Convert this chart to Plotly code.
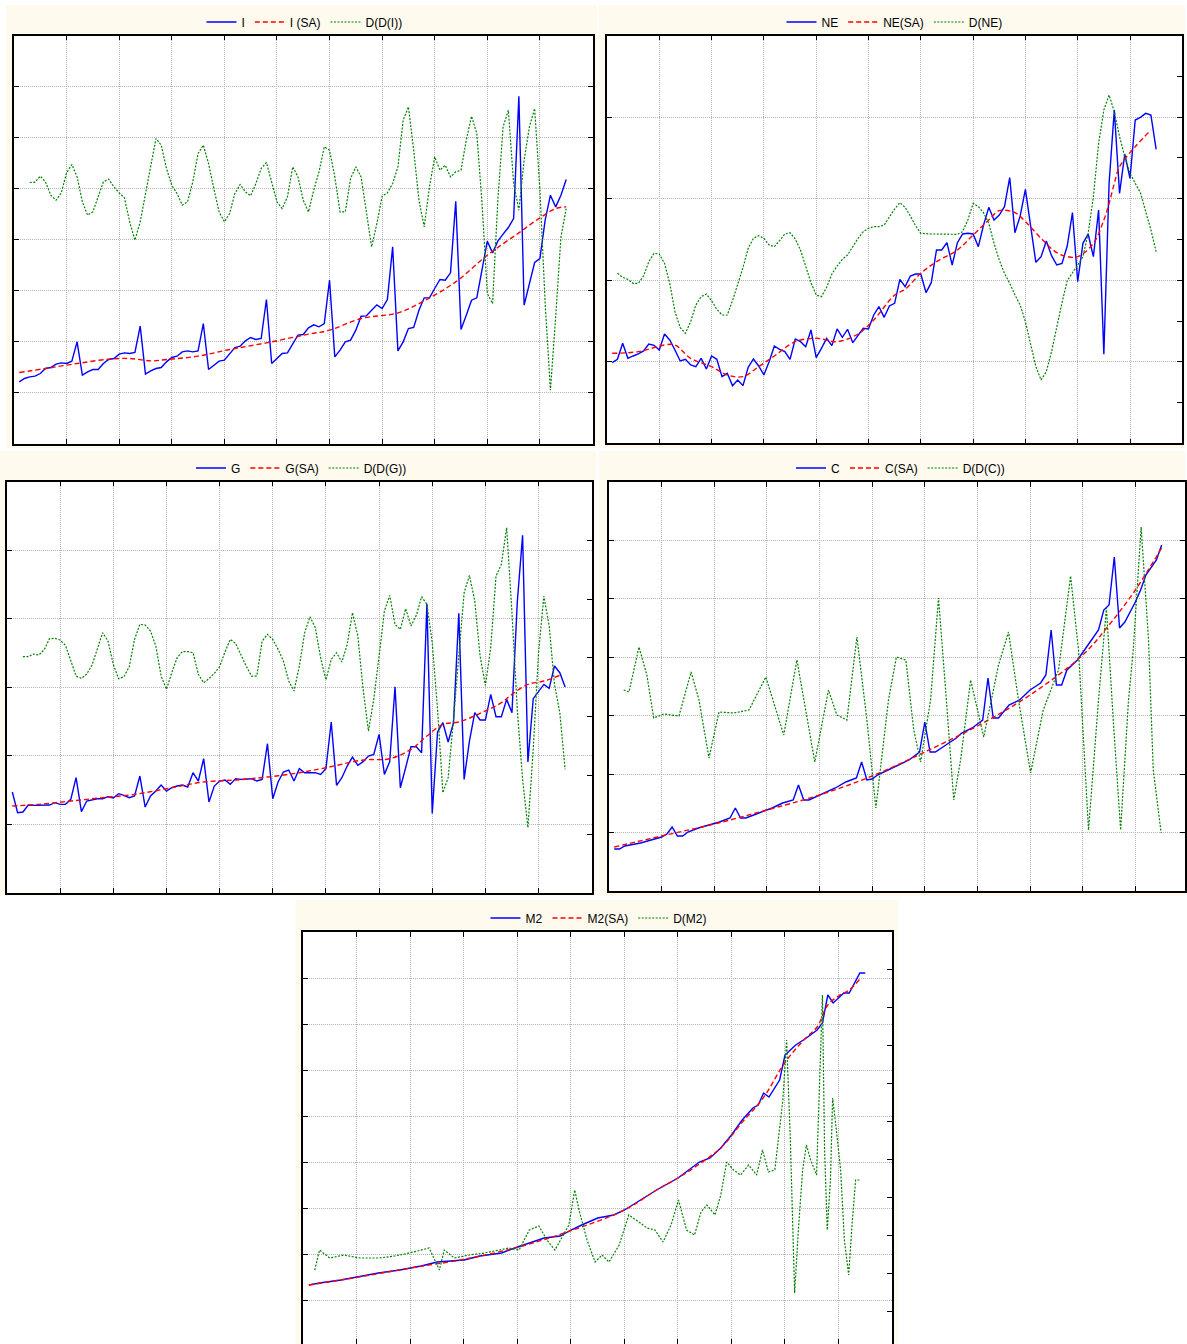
import plotly.graph_objects as go

W, H = 1187, 1344

# ---------------- Panel I ----------------
I_x = list(range(1, 106))
I_vals = [185, 195, 200, 202, 210, 225, 228, 238, 242, 240, 247, 305, 205, 215, 222, 222, 240, 252, 255, 268,
          272, 270, 273, 352, 208, 218, 225, 228, 245, 258, 262, 275, 278, 275, 278, 360, 222, 235, 247, 250,
          268, 288, 292, 308, 318, 312, 315, 432, 240, 255, 270, 272, 300, 325, 327, 347, 356, 350, 360, 490,
          260, 280, 305, 310, 340, 382, 383, 400, 416, 405, 432, 590, 278, 305, 345, 348, 400, 437, 437, 465,
          492, 490, 512, 727, 342, 385, 430, 437, 522, 607, 572, 607, 628, 648, 675, 1042, 415, 480, 543, 555,
          670, 745, 710, 745, 792]
I_sa_x = [1, 6, 12, 18, 22, 26, 29, 35, 41, 48, 56, 60, 66, 73, 78, 84, 90, 96, 100, 103, 105]
I_sa = [213, 225, 240, 253, 255, 248, 252, 262, 282, 302, 328, 340, 375, 392, 428, 485, 565, 632, 677, 705, 710]
I_dd_x = list(range(3, 106))
I_dd = [783, 784, 802, 785, 745, 730, 752, 812, 837, 800, 725, 685, 695, 737, 785, 793, 770, 752, 737, 665,
        610, 665, 750, 840, 915, 895, 825, 775, 750, 715, 725, 785, 870, 895, 840, 765, 695, 665, 690, 750,
        777, 755, 743, 780, 825, 843, 780, 725, 705, 740, 830, 800, 730, 695, 760, 815, 890, 880, 800, 695,
        695, 795, 830, 800, 695, 590, 660, 742, 752, 780, 830, 970, 1010, 880, 730, 650, 770, 860, 820, 835,
        800, 815, 820, 910, 982, 930, 720, 450, 420, 730, 950, 1000, 780, 700, 850, 950, 1005, 760, 420, 160,
        380, 620, 705]

# ---------------- Panel NE ----------------
NE_x = list(range(1, 106))
NE_vals = [242, 252, 300, 255, 262, 268, 277, 298, 294, 280, 328, 310, 280, 247, 252, 235, 230, 255, 223, 262,
           252, 200, 210, 173, 190, 173, 228, 253, 232, 205, 245, 292, 282, 275, 252, 313, 305, 290, 340, 257,
           285, 315, 293, 343, 318, 342, 302, 325, 345, 343, 385, 410, 378, 412, 420, 492, 470, 502, 508, 508,
           452, 482, 580, 580, 602, 535, 602, 628, 630, 628, 590, 655, 708, 670, 685, 710, 797, 632, 682, 762,
           650, 543, 560, 607, 563, 535, 540, 592, 692, 485, 600, 628, 560, 700, 267, 780, 1000, 750, 868, 795,
           970, 978, 990, 985, 882]
NE_sa_x = [1, 6, 11, 13, 16, 20, 23, 26, 29, 32, 36, 40, 44, 48, 51, 55, 57, 60, 63, 67, 70, 73, 75, 78, 80,
           83, 86, 88, 90, 93, 95, 96, 97, 98, 101, 104]
NE_sa = [270, 275, 295, 295, 255, 230, 205, 200, 230, 262, 305, 315, 305, 328, 370, 445, 462, 510, 545, 580,
         625, 670, 698, 692, 665, 615, 572, 560, 560, 600, 670, 720, 780, 830, 890, 940]
NE_d_x = list(range(2, 106))
NE_d = [510, 498, 492, 480, 480, 502, 545, 570, 568, 540, 480, 395, 347, 330, 365, 415, 440, 448, 428, 402,
        385, 385, 428, 475, 527, 585, 615, 623, 615, 595, 590, 608, 628, 632, 613, 580, 528, 482, 445, 440,
        468, 508, 532, 552, 565, 592, 615, 635, 645, 650, 650, 655, 680, 703, 722, 708, 682, 653, 630, 628,
        628, 628, 628, 628, 628, 627, 635, 670, 720, 710, 692, 660, 600, 550, 510, 480, 445, 415, 365, 300,
        230, 190, 215, 275, 350, 422, 488, 510, 535, 560, 630, 740, 900, 1000, 1045, 995, 920, 860, 810, 780,
        752, 695, 640, 575]

# ---------------- Panel G ----------------
G_x = list(range(1, 106))
G_vals = [302, 240, 242, 263, 262, 262, 262, 263, 270, 265, 265, 280, 345, 243, 275, 278, 282, 282, 288, 284,
          297, 292, 285, 290, 350, 257, 290, 305, 323, 305, 315, 320, 323, 317, 360, 335, 402, 272, 320, 335,
          338, 325, 342, 340, 340, 342, 335, 340, 447, 282, 332, 362, 368, 335, 372, 360, 360, 360, 355, 372,
          512, 322, 345, 380, 407, 382, 393, 410, 415, 475, 355, 393, 618, 315, 375, 438, 438, 420, 867, 238,
          482, 510, 452, 510, 838, 340, 455, 540, 518, 518, 595, 528, 528, 580, 540, 872, 1072, 392, 582, 602,
          625, 613, 680, 660, 617]
G_sa_x = [1, 6, 12, 18, 24, 31, 37, 43, 49, 55, 60, 67, 72, 76, 79, 82, 85, 89, 93, 95, 98, 101, 104]
G_sa = [260, 265, 275, 285, 295, 315, 332, 338, 347, 360, 375, 398, 402, 430, 470, 505, 512, 538, 570, 595,
        625, 635, 652]
G_dd_x = list(range(3, 106))
G_dd = [708, 708, 716, 713, 729, 762, 763, 758, 742, 695, 650, 643, 656, 683, 735, 780, 755, 685, 642, 648,
        678, 760, 805, 803, 785, 740, 650, 610, 660, 705, 723, 723, 720, 655, 630, 642, 658, 678, 722, 760,
        748, 712, 680, 650, 650, 755, 775, 760, 730, 695, 635, 605, 680, 780, 828, 795, 705, 638, 700, 720,
        692, 745, 840, 770, 610, 485, 580, 710, 845, 892, 805, 790, 852, 800, 832, 888, 865, 750, 550, 300,
        345, 520, 710, 900, 952, 875, 710, 622, 735, 950, 985, 1095, 840, 550, 340, 195, 430, 720, 890, 800,
        625, 540, 370]

# ---------------- Panel C ----------------
C_x = [1, 2, 3, 4, 6, 8, 10, 11, 12, 13, 14, 15, 17, 19, 21, 23, 24, 25, 26, 28, 29, 31, 33, 35, 36, 37, 38,
       40, 41, 43, 45, 47, 48, 49, 50, 51, 53, 55, 57, 59, 60, 61, 62, 64, 66, 67, 69, 71, 72, 73, 74, 76, 78,
       80, 82, 83, 84, 85, 86, 87, 89, 91, 93, 94, 95, 96, 97, 98, 100, 101, 102, 104, 105]
C_vals = [126, 126, 135, 138, 144, 153, 162, 171, 192, 165, 165, 177, 189, 198, 207, 219, 249, 219, 219, 231,
          237, 249, 264, 273, 318, 273, 273, 288, 294, 309, 327, 339, 387, 333, 336, 348, 363, 378, 393, 417,
          507, 417, 417, 438, 459, 474, 489, 513, 639, 519, 519, 558, 573, 603, 624, 648, 783, 618, 618, 663,
          693, 738, 783, 843, 858, 1002, 789, 807, 867, 903, 948, 993, 1038]
C_sa_x = [1, 10, 20, 30, 40, 50, 60, 70, 80, 90, 95, 100, 105]
C_sa = [132, 165, 201, 243, 288, 345, 417, 495, 588, 708, 798, 903, 1029]
C_dd_x = [2.8, 3.8, 5.7, 7.2, 8.5, 10.4, 13.3, 15.6, 17.1, 19.0, 20.9, 23.7, 26.6, 29.8, 33.2, 35.7, 39.1, 41.7,
          43.3, 45.2, 47.1, 49.0, 50.7, 53.1, 54.6, 56.4, 57.9, 59.2, 61.1, 62.6, 64.1, 65.5, 66.8, 68.7, 71.2,
          74.0, 75.9, 77.8, 80.1, 82.5, 85.4, 87.7, 89.2, 91.1, 93.0, 94.5, 95.8, 97.2, 98.7, 99.6, 101.1, 102.5,
          103.4, 104.9]
C_dd = [603, 597, 732, 648, 519, 531, 525, 657, 573, 399, 537, 534, 543, 642, 468, 693, 387, 603, 528, 513,
        762, 513, 249, 573, 702, 693, 483, 387, 573, 879, 573, 273, 393, 633, 462, 678, 777, 573, 354, 543,
        663, 945, 723, 183, 573, 849, 513, 183, 573, 723, 1092, 753, 363, 174]

# ---------------- Panel M2 ----------------
M2_x = [1, 3, 7, 10, 14, 18, 22, 25, 30, 33, 37, 40, 45, 48, 50, 52, 55, 58, 60, 63, 66, 70, 74, 76, 78, 80,
        82, 84, 85, 86, 87, 89, 90, 91, 92, 94, 96, 97, 98, 99, 101, 102, 104, 105]
M2_vals = [177, 183, 192, 201, 213, 222, 234, 246, 252, 264, 273, 291, 318, 324, 342, 357, 378, 387, 402, 432,
           462, 498, 546, 558, 588, 627, 672, 708, 717, 753, 741, 792, 867, 882, 897, 918, 942, 963, 1047, 1023,
           1053, 1053, 1113, 1113]
M2_sa_x = [1, 10, 20, 30, 40, 50, 60, 66, 70, 74, 78, 82, 86, 90, 94, 96, 98, 100, 102, 104]
M2_sa = [177, 200, 228, 254, 290, 340, 402, 462, 498, 540, 588, 665, 740, 845, 920, 951, 1017, 1044, 1062, 1095]
M2_d_x = [2.1, 3.0, 4.9, 7.6, 10.4, 14.2, 17.0, 19.8, 23.5, 25.4, 26.3, 28.2, 31.0, 33.8, 36.6, 38.4, 40.3,
          42.2, 44.0, 45.5, 47.0, 48.1, 49.6, 50.7, 51.5, 53.0, 54.5, 55.8, 57.1, 59.0, 60.8, 62.7, 64.2, 65.7,
          67.2, 68.7, 70.1, 71.6, 73.1, 74.3, 75.4, 76.9, 78.0, 79.1, 80.4, 81.7, 83.2, 84.7, 85.8, 86.9, 88.1,
          89.6, 90.3, 91.0, 91.8, 92.5, 93.3, 94.0, 94.8, 95.9, 96.6, 97.0, 97.4, 97.9, 98.5, 98.9, 99.6, 100.4,
          101.1, 101.9, 102.6, 103.2, 104.1]
M2_d = [222, 282, 258, 267, 258, 258, 264, 273, 288, 222, 282, 258, 267, 273, 282, 288, 282, 342, 354, 312,
        282, 312, 357, 462, 402, 312, 246, 267, 246, 297, 387, 366, 348, 342, 306, 357, 432, 342, 327, 396,
        417, 387, 447, 546, 522, 507, 537, 507, 582, 516, 522, 732, 912, 612, 153, 342, 522, 597, 552, 507,
        852, 1047, 582, 342, 492, 738, 642, 522, 312, 207, 372, 492, 492]

BLUE, RED, GREEN = "#0000ff", "#ff0000", "#008000"
GRID = "#b4b4b4"


def fx(a):
    return min(1.0, max(0.0, a / W))


def fy(y):
    return min(1.0, max(0.0, (H - y) / H))


# box = (left, right, top, bottom) in page pixels; xmax = x value shown at the right edge of the box
panels = [
    dict(n=("I", "I (SA)", "D(D(I))"), x=I_x, v=I_vals, sx=I_sa_x, s=I_sa, dx=I_dd_x, d=I_dd,
         box=(14, 593.5, 35.7, 443.5), xmax=110, top=1223.5, dt=153, t0=0, dt2=None, t02=0, lx=305, ly=22),
    dict(n=("NE", "NE(SA)", "D(NE)"), x=NE_x, v=NE_vals, sx=NE_sa_x, s=NE_sa, dx=NE_d_x, d=NE_d,
         box=(608, 1184.3, 35.7, 443.3), xmax=110, top=1223, dt=244.6, t0=0, dt2=122.3, t02=0, lx=896, ly=22),
    dict(n=("G", "G(SA)", "D(D(G))"), x=G_x, v=G_vals, sx=G_sa_x, s=G_sa, dx=G_dd_x, d=G_dd,
         box=(7, 592.7, 481.7, 892.7), xmax=110, top=1233, dt=205.5, t0=0, dt2=176.1, t02=0, lx=302, ly=468),
    dict(n=("C", "C(SA)", "D(D(C))"), x=C_x, v=C_vals, sx=C_sa_x, s=C_sa, dx=C_dd_x, d=C_dd,
         box=(610, 1187, 482, 891), xmax=110 * 577 / 580, top=1227, dt=175.3, t0=0, dt2=None, t02=0,
         lx=902, ly=468),
    dict(n=("M2", "M2(SA)", "D(M2)"), x=M2_x, v=M2_vals, sx=M2_sa_x, s=M2_sa, dx=M2_d_x, d=M2_d,
         box=(304, 893.5, 932, 1344), xmax=110, top=1236, dt=138, t0=1236, dt2=114, t02=1125, lx=600, ly=918),
]

cream = [(6, 598, 5, 448), (600, 1187, 5, 448), (0, 597, 451, 896), (600, 1187, 451, 896), (296, 900, 900, 1344)]

fig = go.Figure()
layout = dict(width=W, height=H, margin=dict(l=0, r=0, t=0, b=0), paper_bgcolor="white",
              plot_bgcolor="white", showlegend=True,
              font=dict(family="Liberation Sans, Arial, sans-serif", size=12, color="black"))
shapes = []
for (x0, x1, y0, y1) in cream:
    shapes.append(dict(type="rect", xref="paper", yref="paper", x0=fx(x0), x1=fx(x1),
                       y0=fy(y1), y1=fy(y0), fillcolor="#fffaee", line=dict(width=0), layer="below"))

for i, p in enumerate(panels):
    k = i + 1
    xa = "x" if k == 1 else f"x{k}"
    ya = "y" if k == 1 else f"y{k}"
    xkey = "xaxis" if k == 1 else f"xaxis{k}"
    ykey = "yaxis" if k == 1 else f"yaxis{k}"
    lg = "legend" if k == 1 else f"legend{k}"
    x0, x1, y0, y1 = p["box"]
    shapes.append(dict(type="rect", xref="paper", yref="paper", x0=fx(x0), x1=fx(x1),
                       y0=fy(y1), y1=fy(y0), fillcolor="white", line=dict(width=0), layer="below"))
    layout[xkey] = dict(domain=[fx(x0), fx(x1)], anchor=ya, range=[0, p["xmax"]], tick0=0, dtick=10,
                        showgrid=True, gridcolor=GRID, griddash="1px,1px", gridwidth=1,
                        ticks="inside", ticklen=5, tickcolor="black", showticklabels=False,
                        showline=True, linecolor="black", linewidth=1.5, mirror="ticks", zeroline=False)
    layout[ykey] = dict(domain=[fy(y1), fy(y0)], anchor=xa, range=[0, p["top"]], tick0=p["t0"], dtick=p["dt"],
                        showgrid=True, gridcolor=GRID, griddash="1px,1px", gridwidth=1,
                        ticks="inside", ticklen=5, tickcolor="black", showticklabels=False,
                        showline=True, linecolor="black", linewidth=1.5,
                        mirror="ticks" if p["dt2"] is None else True, zeroline=False)
    gy = ya
    if p["dt2"] is not None:
        k2 = k + 5
        gy = f"y{k2}"
        layout[f"yaxis{k2}"] = dict(overlaying=ya, anchor=xa, side="right", range=[0, p["top"]],
                                    tick0=p["t02"], dtick=p["dt2"], showgrid=False, ticks="inside",
                                    ticklen=5, tickcolor="black", showticklabels=False, showline=False,
                                    zeroline=False)
    layout[lg] = dict(orientation="h", x=fx(p["lx"]), xanchor="center", y=fy(p["ly"]),
                      yanchor="middle", bgcolor="rgba(0,0,0,0)", font=dict(size=12), itemwidth=30,
                      tracegroupgap=0)
    fig.add_trace(go.Scatter(x=p["x"], y=p["v"], name=p["n"][0], mode="lines", xaxis=xa, yaxis=ya,
                             legend=lg, line=dict(color=BLUE, width=1.4)))
    fig.add_trace(go.Scatter(x=p["sx"], y=p["s"], name=p["n"][1], mode="lines", xaxis=xa, yaxis=ya,
                             legend=lg, line=dict(color=RED, width=1.4, dash="5px,3px", shape="spline")))
    fig.add_trace(go.Scatter(x=p["dx"], y=p["d"], name=p["n"][2], mode="lines", xaxis=xa, yaxis=gy,
                             legend=lg, line=dict(color=GREEN, width=1.2, dash="2px,1.5px")))

layout["shapes"] = shapes
fig.update_layout(**layout)
fig.write_html("out.html", config={"displayModeBar": False},
               post_script="document.body.style.margin='0';document.body.style.overflow='hidden';")
